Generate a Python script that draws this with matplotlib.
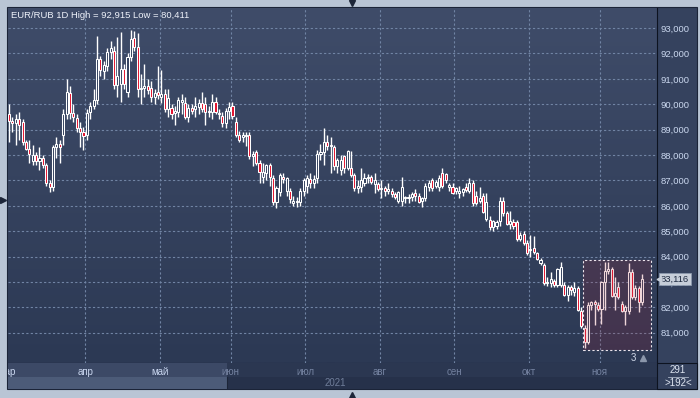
import numpy as np
import pandas as pd
import matplotlib
matplotlib.use("Agg")
import matplotlib.pyplot as plt
from matplotlib.patches import Rectangle
from matplotlib.lines import Line2D
import matplotlib.transforms as mtransforms

plt.rcParams['font.family'] = ['Liberation Sans', 'DejaVu Sans']

# EUR/RUB daily candles, 1 Mar - 17 Nov 2021
opens = [89.60, 89.35, 89.25, 89.40, 89.30, 88.50, 88.25, 87.75, 88.00, 87.75,
         87.90, 87.60, 86.90, 86.75, 88.30, 88.45, 88.80, 89.60, 90.45, 89.65,
         89.45, 89.05, 88.90, 88.80, 89.70, 89.95, 90.15, 91.80, 91.30, 91.50,
         92.05, 92.10, 90.75, 90.80, 91.40, 90.50, 91.85, 92.60, 92.25, 90.60,
         90.65, 90.70, 90.65, 90.30, 90.50, 90.30, 90.40, 89.80, 89.85, 89.65,
         89.70, 90.10, 90.05, 89.50, 89.85, 89.80, 89.90, 90.05, 90.00, 89.70,
         89.70, 90.10, 89.65, 89.55, 89.25, 89.75, 89.95, 89.30, 88.80, 88.70,
         88.75, 88.80, 87.95, 88.10, 87.70, 87.15, 87.30, 87.60, 87.10, 86.15,
         86.55, 87.15, 86.60, 86.60, 86.12, 86.15, 86.15, 86.60, 86.80, 87.05,
         86.90, 87.10, 88.05, 88.10, 88.50, 88.35, 88.30, 87.55, 87.40, 87.95,
         87.50, 87.50, 87.20, 86.70, 86.75, 86.90, 87.10, 87.15, 86.85, 86.85,
         86.65, 86.70, 86.60, 86.60, 86.45, 86.20, 86.20, 86.30, 86.30, 86.35,
         86.50, 86.40, 86.20, 86.30, 86.75, 87.00, 86.80, 86.75, 87.30, 87.25,
         86.75, 86.75, 86.60, 86.50, 86.55, 86.75, 86.60, 86.90, 86.40, 86.20,
         86.40, 85.50, 85.45, 85.15, 85.20, 85.40, 86.20, 85.70, 85.30, 85.35,
         85.35, 84.70, 84.90, 84.55, 84.25, 84.35, 84.15, 83.75, 83.65, 82.95,
         82.95, 83.05, 82.90, 82.90, 82.90, 82.50, 82.80, 82.60, 82.75, 81.85,
         81.20, 80.65, 82.10, 82.20, 82.10, 81.95, 83.00, 83.45, 83.50, 82.45,
         82.80, 82.15, 81.85, 81.85, 83.40, 82.40, 82.75, 82.20]
highs = [90.00, 89.50, 89.60, 89.70, 89.40, 88.60, 88.60, 88.40, 88.10, 88.30,
         88.00, 87.70, 87.00, 88.40, 88.70, 88.60, 89.80, 91.00, 90.70, 90.00,
         89.60, 89.30, 89.10, 89.80, 90.10, 90.60, 92.70, 91.90, 91.70, 92.20,
         92.50, 92.30, 92.65, 92.85, 91.60, 92.00, 92.915, 92.90, 92.80, 91.20,
         91.60, 91.00, 90.90, 90.60, 91.50, 91.35, 90.60, 90.60, 90.00, 89.95,
         90.30, 90.40, 90.30, 90.00, 90.00, 90.30, 90.20, 90.50, 90.30, 89.95,
         90.40, 90.30, 89.80, 89.70, 89.85, 90.10, 90.10, 89.50, 88.95, 88.90,
         88.90, 88.90, 88.15, 88.20, 87.80, 87.70, 87.65, 87.70, 87.20, 86.80,
         87.30, 87.30, 87.15, 86.70, 86.40, 86.35, 86.70, 87.10, 87.20, 87.30,
         87.20, 88.20, 88.45, 89.05, 88.80, 88.70, 88.40, 87.90, 88.00, 88.00,
         88.20, 88.15, 87.30, 87.00, 87.50, 87.30, 87.25, 87.20, 87.30, 86.95,
         87.00, 86.80, 86.90, 86.70, 86.55, 86.60, 87.15, 86.40, 86.45, 86.55,
         86.65, 86.50, 86.35, 86.90, 87.00, 87.10, 87.00, 87.20, 87.50, 87.30,
         86.90, 86.90, 86.75, 86.80, 86.70, 86.90, 87.10, 87.00, 86.60, 86.75,
         86.50, 86.50, 85.60, 85.45, 85.45, 86.35, 86.35, 85.80, 85.80, 85.50,
         85.45, 84.95, 85.00, 84.65, 84.85, 84.80, 84.20, 83.95, 83.75, 83.20,
         83.40, 83.10, 83.55, 83.80, 83.00, 82.90, 82.90, 83.00, 82.85, 82.00,
         81.30, 82.20, 82.25, 82.30, 82.20, 83.05, 83.80, 83.80, 83.60, 83.20,
         83.00, 82.25, 82.10, 83.75, 83.50, 82.90, 82.85, 83.30]
lows = [88.50, 88.90, 88.40, 88.60, 88.40, 88.20, 87.70, 87.60, 87.60, 87.40,
        87.50, 86.80, 86.55, 86.60, 87.90, 87.70, 88.40, 89.40, 89.40, 89.30,
        88.90, 88.30, 88.20, 88.60, 89.40, 89.80, 90.00, 91.10, 91.00, 91.30,
        91.80, 90.60, 90.30, 90.10, 90.60, 90.30, 91.70, 92.10, 90.30, 90.00,
        90.30, 90.40, 90.10, 90.00, 90.20, 90.05, 89.70, 89.50, 89.40, 89.20,
        89.50, 89.60, 89.40, 89.30, 89.60, 89.50, 89.60, 89.70, 89.20, 89.50,
        89.40, 89.60, 89.40, 89.10, 89.05, 89.40, 89.40, 88.70, 88.50, 88.50,
        88.35, 87.85, 87.55, 87.60, 86.90, 86.90, 87.00, 86.80, 86.05, 85.90,
        86.40, 86.90, 86.40, 86.10, 86.00, 85.95, 86.00, 86.40, 86.50, 86.70,
        86.70, 86.90, 87.80, 87.60, 88.20, 87.30, 87.40, 87.30, 87.20, 87.30,
        87.40, 87.15, 86.60, 86.50, 86.55, 86.80, 86.90, 86.85, 86.50, 86.60,
        86.30, 86.40, 86.45, 86.35, 86.25, 86.10, 86.00, 86.10, 86.10, 86.20,
        86.20, 86.10, 85.95, 86.20, 86.60, 86.60, 86.70, 86.60, 86.70, 86.90,
        86.60, 86.45, 86.45, 86.30, 86.40, 86.55, 86.50, 86.00, 86.05, 86.10,
        85.70, 85.40, 85.05, 85.00, 85.10, 85.20, 85.60, 85.25, 85.10, 85.10,
        84.60, 84.60, 84.45, 84.05, 84.00, 84.10, 83.85, 83.65, 82.90, 82.85,
        82.80, 82.80, 82.80, 82.80, 82.45, 82.25, 82.50, 82.45, 81.85, 81.20,
        80.411, 80.55, 81.90, 81.30, 81.85, 81.35, 81.90, 83.30, 82.40, 81.90,
        82.35, 81.80, 81.30, 81.75, 82.35, 82.30, 81.80, 82.10]
closes = [89.35, 89.25, 89.40, 89.20, 88.50, 88.25, 88.05, 88.00, 87.75, 87.90,
          87.60, 86.90, 86.75, 88.30, 88.45, 88.30, 89.60, 90.50, 89.65, 89.50,
          89.05, 88.90, 88.75, 89.65, 89.95, 90.15, 91.80, 91.35, 91.55, 92.05,
          92.20, 90.75, 91.10, 91.40, 90.80, 91.85, 92.55, 92.25, 90.60, 90.65,
          90.70, 90.55, 90.30, 90.45, 90.35, 90.40, 89.80, 90.25, 89.60, 89.75,
          90.15, 90.15, 89.50, 89.85, 89.75, 89.95, 90.05, 89.80, 89.70, 89.75,
          90.10, 89.70, 89.60, 89.25, 89.75, 89.90, 89.55, 88.80, 88.60, 88.80,
          88.80, 87.95, 88.05, 87.70, 87.35, 87.35, 87.60, 87.15, 86.15, 86.70,
          87.20, 87.05, 87.10, 86.25, 86.20, 86.20, 86.60, 87.00, 87.10, 86.90,
          87.05, 88.05, 88.10, 88.50, 88.35, 88.40, 87.55, 87.80, 87.80, 87.50,
          88.15, 87.20, 86.70, 86.80, 87.00, 87.10, 87.15, 86.95, 87.00, 86.65,
          86.70, 86.60, 86.65, 86.45, 86.35, 86.55, 86.75, 86.35, 86.35, 86.45,
          86.40, 86.15, 86.30, 86.80, 86.90, 86.70, 86.95, 87.10, 86.80, 87.00,
          86.82, 86.50, 86.70, 86.60, 86.65, 86.62, 86.90, 86.10, 86.10, 86.30,
          85.75, 86.15, 85.15, 85.40, 85.35, 86.20, 85.70, 85.30, 85.40, 85.20,
          84.70, 84.85, 84.55, 84.15, 84.30, 84.20, 83.90, 83.85, 82.95, 83.00,
          83.10, 82.90, 83.50, 83.60, 82.50, 82.80, 82.70, 82.75, 81.90, 81.25,
          80.65, 82.10, 82.20, 82.15, 81.95, 83.00, 83.45, 83.50, 82.45, 82.55,
          82.40, 81.85, 82.00, 83.40, 82.40, 82.75, 82.20, 83.116]
month_names = ['мар', 'апр', 'май', 'июн', 'июл', 'авг', 'сен', 'окт', 'ноя']
price_ticks = [81, 82, 83, 84, 85, 86, 87, 88, 89, 90, 91, 92, 93]

n = len(closes)
idx = np.arange(n)
dates = pd.bdate_range('2021-03-01', periods=n)
month_pos = [-0.5] + [i - 0.5 for i in range(1, n) if dates[i].month != dates[i - 1].month]

o = np.array(opens); h = np.array(highs); l = np.array(lows); c = np.array(closes)

W, H = 700, 398
def rect(x0, y0, x1, y1):
    return [x0 / W, 1 - y1 / H, (x1 - x0) / W, (y1 - y0) / H]

fig = plt.figure(figsize=(7, 3.98), dpi=100)
fig.patch.set_facecolor('#b9c5d5')
fig.add_artist(Rectangle((7 / W, 1 - 389 / H), 690 / W, 382 / H, transform=fig.transFigure,
                         fc='#35425e', ec='#1b2438', lw=0.8, zorder=-5))

ax = fig.add_axes(rect(8, 8, 657, 363))
ax.patch.set_alpha(0)
xlim = (-0.3, 191.4)
ylim = (79.81, 93.79)

# background gradient
grad = np.linspace(0, 1, 256).reshape(-1, 1)
cmap = matplotlib.colors.LinearSegmentedColormap.from_list('bg', ['#3f4c69', '#2c3954'])
ax.imshow(grad, cmap=cmap, aspect='auto', extent=(xlim[0], xlim[1], ylim[0], ylim[1]),
          origin='upper', zorder=0)
ax.set_xlim(*xlim)
ax.set_ylim(*ylim)

# grid
ax.set_xticks(month_pos[1:])
ax.set_yticks(price_ticks)
ax.grid(True, color='#7184a4', linestyle=(0, (2, 2)), linewidth=0.8, zorder=1)
ax.set_axisbelow(False)
ax.tick_params(axis='x', length=0, labelbottom=False)
ax.yaxis.tick_right()
ax.tick_params(axis='y', length=0, pad=2.5, labelsize=6.8, labelcolor='#cbd8ef')
ax.set_yticklabels([f"{v:.3f}".replace('.', ',') for v in price_ticks])
for s in ax.spines.values():
    s.set_visible(False)
ax.spines['right'].set_visible(True)
ax.spines['right'].set_color('#0d1320')
ax.spines['bottom'].set_visible(True)
ax.spines['bottom'].set_color('#0d1320')

# candles
up = c >= o
body_lo = np.minimum(o, c)
body_h = np.maximum(np.abs(c - o), 0.04)
ax.vlines(idx, l, h, color='white', lw=1.0, zorder=3)
ax.bar(idx, body_h, bottom=body_lo, width=0.62,
       color=np.where(up, '#36435f', '#e3132e'), edgecolor='white', linewidth=0.75, zorder=4)

# selection box
sel_x0, sel_x1, sel_y0, sel_y1 = 169.5, 189.6, 80.32, 83.87
ax.add_patch(Rectangle((sel_x0, sel_y0), sel_x1 - sel_x0, sel_y1 - sel_y0,
                       fc='#a81d30', alpha=0.18, ec='none', zorder=5))
ax.add_patch(Rectangle((sel_x0, sel_y0), sel_x1 - sel_x0, sel_y1 - sel_y0,
                       fill=False, ec='#ece4ec', lw=0.8, ls=(0, (2, 2)), zorder=6))
ax.text(184.3, 80.0, '3', color='#d0d8e8', fontsize=7, ha='center', va='center', zorder=6)
ax.plot([187.3], [80.0], marker='^', ms=4, color='#8b97ab', zorder=6)

# title
ax.text(0.004, 1 - 7 / 355, 'EUR/RUB 1D High = 92,915 Low = 80,411', transform=ax.transAxes,
        color='#eef2fa', fontsize=6.8, ha='left', va='center', zorder=7)

# last price tag
tr = mtransforms.blended_transform_factory(ax.transAxes, ax.transData)
ax.text(1 + 4 / 649, c[-1], '83,116', transform=tr, fontsize=6.8, color='#1e2a40',
        ha='left', va='center', clip_on=False, zorder=10,
        bbox=dict(boxstyle='square,pad=0.2', fc='#c7ced9', ec='#8c99ad', lw=0.6))
ax.plot([1 + 2 / 649], [c[-1]], transform=tr, marker='<', ms=3.5, color='#c7ced9',
        clip_on=False, zorder=10)

# time axis
axt = fig.add_axes(rect(8, 363, 657, 389))
axt.set_xlim(*xlim)
axt.set_ylim(0, 1)
axt.axis('off')
split = 64.4
band = 0.46
axt.add_patch(Rectangle((xlim[0], band), split - xlim[0], 1 - band, fc='#3c4966', ec='none'))
axt.add_patch(Rectangle((split, band), xlim[1] - split, 1 - band, fc='#2b3751', ec='none'))
axt.add_patch(Rectangle((xlim[0], 0), split - xlim[0], band, fc='#4c5b78', ec='none'))
axt.add_patch(Rectangle((split, 0), xlim[1] - split, band, fc='#26314a', ec='none'))
axt.axvline(split, ymin=0, ymax=band, color='#1c2538', lw=0.8)
for p, name in zip(month_pos, month_names):
    col = '#cad7f0' if p < split - 2 else '#7482a0'
    axt.text(p, 0.66, name, color=col, fontsize=7, ha='center', va='center', clip_on=True)
axt.text(96.3, 0.22, '2021', color='#6f7d99', fontsize=7, ha='center', va='center')

# bottom-right corner box
fig.add_artist(Rectangle((657 / W, 1 - 389 / H), 40 / W, 26 / H, transform=fig.transFigure,
                         fc='#35425e', ec='#0d1320', lw=0.8))
fig.text(678 / W, 1 - 370 / H, '291', color='#dde4f0', fontsize=7, ha='center', va='center')
fig.add_artist(Line2D([668 / W, 688 / W], [1 - 377 / H] * 2, transform=fig.transFigure,
                      color='#aab4c6', lw=0.6))
fig.text(678 / W, 1 - 383 / H, '>192<', color='#dde4f0', fontsize=7, ha='center', va='center')

# frame triangles
for (tx, ty, m) in [(3, 200, '>'), (352, 3, 'v'), (352, 395, '^')]:
    fig.add_artist(Line2D([tx / W], [1 - ty / H], transform=fig.transFigure, marker=m,
                          ms=5, color='#1d2639', lw=0))

fig.savefig('out.png', dpi=100, facecolor=fig.get_facecolor())
